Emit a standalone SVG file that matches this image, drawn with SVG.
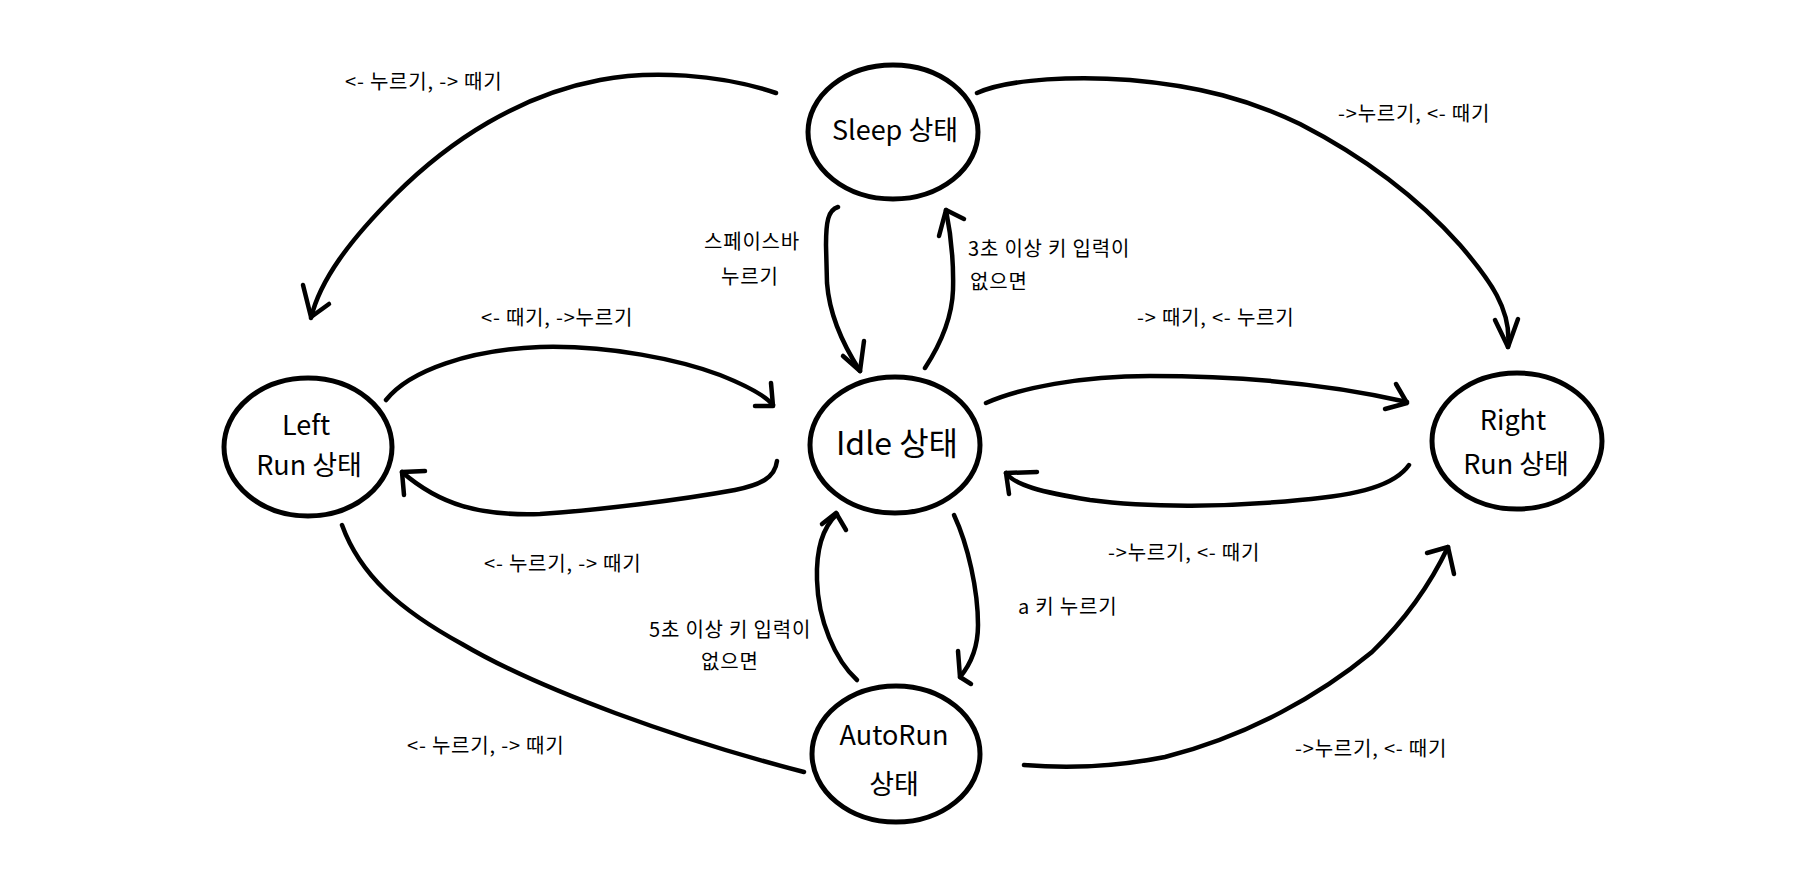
<svg xmlns="http://www.w3.org/2000/svg" width="1810" height="894" viewBox="0 0 1810 894">
<style>
.bg{fill:#fff}
.node{fill:#fff;stroke:#000;stroke-width:5}
.nt{font-family:"Noto Sans CJK KR","Noto Sans",sans-serif;font-size:27px;fill:#000;text-anchor:middle}
.big{font-size:32px}
.lbl{font-family:"Noto Sans CJK KR","Noto Sans",sans-serif;font-size:20px;letter-spacing:0.8px;fill:#000}
.c{fill:none;stroke:#000;stroke-width:4.5;stroke-linecap:round;stroke-linejoin:round}
</style>
<rect class="bg" x="0" y="0" width="1810" height="894"/>
<g id="connectors">
  <path class="c" d="M776,93 C720,74 650,70 600,80 C520,95 450,140 395,195 C350,240 320,280 311,318"/>
  <path class="c" d="M303,285 L311,317 L329,304"/>
  <path class="c" d="M838,207 C828,210 826,222 826,245 L827,283 C829,310 840,340 860,371"/>
  <path class="c" d="M843,356 L860,371 L864,341"/>
  <path class="c" d="M925,368 C940,345 952,320 953,290 C954,255 950,230 946,210"/>
  <path class="c" d="M939,236 L946,210 L964,219"/>
  <path class="c" d="M977,93 C1010,78 1080,76 1130,80 C1200,86 1250,100 1300,124 C1370,160 1420,200 1460,245 C1490,280 1512,310 1508,347"/>
  <path class="c" d="M1495,320 L1508,347 L1518,319"/>
  <path class="c" d="M386,400 C410,370 470,350 540,347 C610,345 680,360 720,375 C745,385 765,395 773,405"/>
  <path class="c" d="M771,383 L773,406 L755,406"/>
  <path class="c" d="M777,461 C775,478 760,485 735,490 C680,500 600,510 540,514 C480,516 440,505 402,472"/>
  <path class="c" d="M425,471 L402,472 L404,495"/>
  <path class="c" d="M986,403 C1020,388 1080,376 1150,376 C1250,376 1330,384 1407,402"/>
  <path class="c" d="M1396,384 L1407,403 L1385,409"/>
  <path class="c" d="M1409,465 C1395,485 1360,495 1300,500 C1230,507 1150,508 1090,500 C1040,492 1015,485 1006,473"/>
  <path class="c" d="M1037,472 L1006,473 L1009,494"/>
  <path class="c" d="M954,515 C968,545 978,590 978,625 C978,650 970,665 960,677"/>
  <path class="c" d="M958,651 L960,677 L971,684"/>
  <path class="c" d="M857,680 C835,660 818,620 817,580 C816,550 822,528 837,514"/>
  <path class="c" d="M822,524 L836,513 L846,530"/>
  <path class="c" d="M342,525 C360,575 400,610 462,644 C540,690 680,740 804,772"/>
  <path class="c" d="M1024,765 C1060,768 1110,768 1165,757 C1250,735 1320,695 1372,652 C1405,620 1430,585 1448,547"/>
  <path class="c" d="M1427,553 L1448,547 L1454,574"/>
</g>
<g id="labels">
  <text class="lbl" x="345" y="89">&lt;- 누르기, -&gt; 때기</text>
  <text class="lbl" x="704" y="249">스페이스바</text>
  <text class="lbl" x="721" y="284">누르기</text>
  <text class="lbl" x="481" y="325">&lt;- 때기, -&gt;누르기</text>
  <text class="lbl" x="1338" y="121">-&gt;누르기, &lt;- 때기</text>
  <text class="lbl" x="968" y="256">3초 이상 키 입력이</text>
  <text class="lbl" x="970" y="289">없으면</text>
  <text class="lbl" x="1137" y="325">-&gt; 때기, &lt;- 누르기</text>
  <text class="lbl" x="484" y="571">&lt;- 누르기, -&gt; 때기</text>
  <text class="lbl" x="407" y="753">&lt;- 누르기, -&gt; 때기</text>
  <text class="lbl" x="649" y="637">5초 이상 키 입력이</text>
  <text class="lbl" x="701" y="669">없으면</text>
  <text class="lbl" x="1108" y="560">-&gt;누르기, &lt;- 때기</text>
  <text class="lbl" x="1018" y="614">a 키 누르기</text>
  <text class="lbl" x="1295" y="756">-&gt;누르기, &lt;- 때기</text>
</g>
<g id="sleep">
  <ellipse class="node" cx="893" cy="132" rx="85" ry="67"/>
  <text class="nt" x="895" y="140">Sleep 상태</text>
</g>
<g id="idle">
  <ellipse class="node" cx="895" cy="445" rx="85" ry="68"/>
  <text class="nt big" x="897" y="455">Idle 상태</text>
</g>
<g id="leftrun">
  <ellipse class="node" cx="308" cy="447" rx="84" ry="69"/>
  <text class="nt" x="306" y="435">Left</text>
  <text class="nt" x="309" y="475">Run 상태</text>
</g>
<g id="rightrun">
  <ellipse class="node" cx="1517" cy="441" rx="85" ry="68"/>
  <text class="nt" x="1513" y="430">Right</text>
  <text class="nt" x="1516" y="474">Run 상태</text>
</g>
<g id="autorun">
  <ellipse class="node" cx="896" cy="754" rx="84" ry="68"/>
  <text class="nt" x="894" y="745">AutoRun</text>
  <text class="nt" x="894" y="794">상태</text>
</g>
</svg>
